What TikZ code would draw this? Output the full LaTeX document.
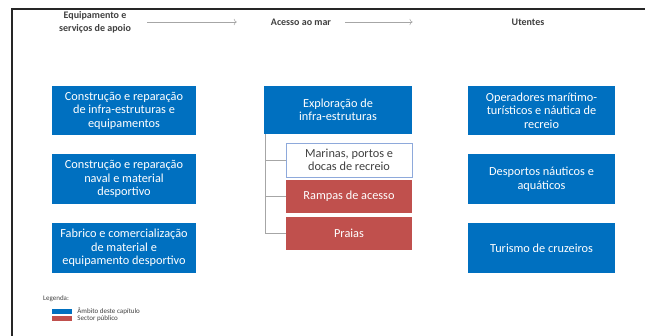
\documentclass[tikz,border=0pt]{standalone}
\usepackage{fontspec}
\setmainfont{Carlito}
\usetikzlibrary{arrows.meta,positioning}
\definecolor{azul}{HTML}{0070C0}
\definecolor{vermelho}{HTML}{C0504D}
\definecolor{cinza}{HTML}{A6A6A6}
\definecolor{contorno}{HTML}{8EA9DB}
\definecolor{escuro}{HTML}{404040}

\begin{document}
\begin{tikzpicture}[x=1pt,y=-1pt,
    bloco/.style={text=white,align=center,inner sep=0pt,font=\fontsize{12.3}{13.5}\selectfont},
    azulbox/.style={bloco,fill=azul},
    vermbox/.style={bloco,fill=vermelho},
    titulo/.style={text=escuro,align=center,inner sep=0pt,font=\fontsize{10}{13}\selectfont\bfseries},
    seta/.style={cinza,line width=0.6pt,-{To[length=3pt]}},
    ligacao/.style={cinza,line width=0.6pt},
    legenda/.style={inner sep=0pt,anchor=west,font=\fontsize{7}{8}\selectfont,text=escuro}]
    \useasboundingbox (0,0) rectangle (645,336);
    % moldura
    \draw[line width=1.2pt,black!85] (12,336) -- (12,9) -- (645,9);

    % cabecalhos
    \node[titulo] (h1) at (95,22) {Equipamento e\\serviços de apoio};
    \node[titulo] (h2) at (301,22) {Acesso ao mar};
    \node[titulo] (h3) at (528,22) {Utentes};
    \draw[seta,shorten <=16pt,shorten >=34pt] (h1) -- (h2);
    \draw[seta,shorten <=14pt,shorten >=99pt] (h2) -- (h3);

    % equipamento e servicos de apoio
    \node[azulbox,minimum width=144pt,minimum height=49pt] (c1) at (124,110.5) {Construção e reparação\\de infra-estruturas e\\equipamentos};
    \node[azulbox,minimum width=144pt,minimum height=50pt] (c2) at (124,179) {Construção e reparação\\naval e material\\desportivo};
    \node[azulbox,minimum width=144pt,minimum height=50pt] (c3) at (124,248) {Fabrico e comercialização\\de material e\\equipamento desportivo};

    % acesso ao mar
    \node[azulbox,minimum width=148pt,minimum height=48pt] (m0) at (338,110) {Exploração de\\infra-estruturas};
    \node[bloco,text=escuro,draw=contorno,line width=0.8pt,minimum width=126pt,minimum height=34pt] (m1) at (349,160) {Marinas, portos e\\docas de recreio};
    \node[vermbox,minimum width=126pt,minimum height=33pt] (m2) at (349,196.5) {Rampas de acesso};
    \node[vermbox,minimum width=126pt,minimum height=33pt] (m3) at (349,233.5) {Praias};
    \draw[ligacao] ([xshift=1pt]m0.south west) |- (m3.west);
    \foreach \m in {m1,m2}
        \draw[ligacao] ([xshift=1pt]m0.south west |- \m.west) -- (\m.west);

    % utentes
    \node[azulbox,minimum width=147pt,minimum height=49pt] (u1) at (541.5,110.5) {Operadores marítimo-\\turísticos e náutica de\\recreio};
    \node[azulbox,minimum width=147pt,minimum height=50pt] (u2) at (541.5,179) {Desportos náuticos e\\aquáticos};
    \node[azulbox,minimum width=147pt,minimum height=50pt] (u3) at (541.5,248) {Turismo de cruzeiros};

    % legenda
    \node[legenda] (leg) at (43,299) {Legenda:};
    \node[fill=azul,inner sep=0pt,minimum width=20pt,minimum height=5pt] (l1) at (62,311.5) {};
    \node[fill=vermelho,inner sep=0pt,minimum width=20pt,minimum height=5pt] (l2) at (62,318.5) {};
    \node[legenda,right=5pt of l1] (t1) {Âmbito deste capítulo};
    \node[legenda,right=5pt of l2] (t2) {Sector público};
\end{tikzpicture}
\end{document}
